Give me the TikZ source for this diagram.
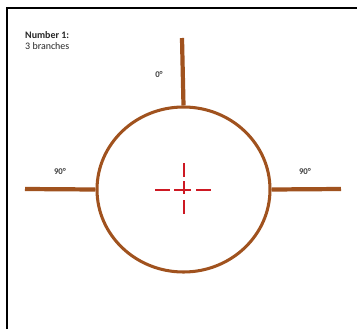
\documentclass[tikz,border=0pt]{standalone}
\usepackage{fontspec}
\setmainfont{Carlito}
\usetikzlibrary{positioning,shapes.geometric}

\definecolor{bark}{RGB}{160,82,30}
\definecolor{markred}{RGB}{205,25,35}
\tikzset{
  branch/.style={line width=3.6pt,bark},
  angletext/.style={font=\fontsize{7.5}{8}\selectfont\bfseries,text=black!75},
  centremark/.style={line width=1.5pt,markred}
}

\begin{document}
\begin{tikzpicture}[x=0.03cm,y=-0.03cm]
  \useasboundingbox (0,0) rectangle (357,329);
  % frame
  \draw[line width=2.4pt] (7,329) -- (7,8) -- (357,8);
  \node[anchor=north west,align=left,inner sep=0pt,text=black!85,font=\fontsize{8.5}{9.5}\selectfont] (title) at (25,31)
    {\textbf{Number 1:}\\3 branches};
  % trunk cut
  \node[draw=bark,line width=2.6pt,ellipse,minimum width=173*0.03cm,minimum height=165*0.03cm,inner sep=0pt] (trunk) at (183.5,189.5) {};
  % branches
  \coordinate (topend) at (182,38);
  \coordinate (leftend) at (25,189);
  \coordinate (rightend) at (341,189);
  \draw[branch] (trunk.north) -- (topend);
  \draw[branch] (trunk.west) -- (leftend);
  \draw[branch] (trunk.east) -- (rightend);
  \node[angletext] (atop) at (159,74) {0°};
  \node[angletext] (aleft) at (60,171) {90°};
  \node[angletext] (aright) at (305,171) {90°};
  % centre mark
  \coordinate (mid) at (184,190);
  \coordinate (h1) at (155,190); \coordinate (h2) at (170,190);
  \coordinate (h3) at (174,190); \coordinate (h4) at (191,190);
  \coordinate (h5) at (196,190); \coordinate (h6) at (211,190);
  \coordinate (v1) at (184,163); \coordinate (v2) at (184,177);
  \coordinate (v3) at (184,181); \coordinate (v4) at (184,194);
  \coordinate (v5) at (184,200); \coordinate (v6) at (184,214);
  \draw[centremark] (h1) -- (h2) (h3) -- (h4) (h5) -- (h6);
  \draw[centremark] (v1) -- (v2) (v3) -- (v4) (v5) -- (v6);
\end{tikzpicture}
\end{document}
